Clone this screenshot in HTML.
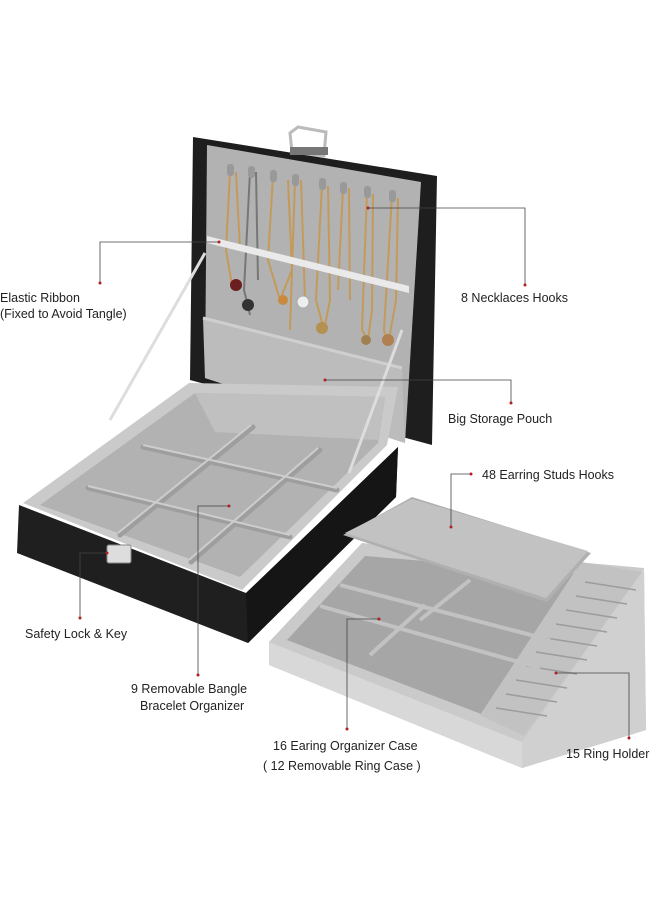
<!DOCTYPE html>
<html><head><meta charset="utf-8"><style>
html,body{margin:0;padding:0;background:#fff;}
svg{display:block}
text{font-family:"Liberation Sans",sans-serif;font-size:12.5px;fill:#222;}
</style></head><body>
<svg width="660" height="900" viewBox="0 0 660 900" xmlns="http://www.w3.org/2000/svg">
<rect width="660" height="900" fill="#fff"/>
<!-- LID -->
<polygon points="193,137 437,176 432,445 190,380" fill="#1e1e1e"/>
<polygon points="207,145 421,182 405,443 205,378" fill="#b2b2b2"/>
<polygon points="290,133 298,127 326,132 324,156 292,152" fill="none" stroke="#bbb" stroke-width="3"/>
<rect x="290" y="147" width="38" height="8" fill="#777"/>
<!-- pouch -->
<polygon points="203,318 402,368 405,443 205,378" fill="#bcbcbc"/>
<line x1="203" y1="318" x2="402" y2="368" stroke="#cfcfcf" stroke-width="3"/>
<!-- hooks & chains -->
<g stroke="#c49a5a" stroke-width="2" fill="none">
<path d="M230,172 L226,250 L232,285 M236,172 L240,250"/>
<path d="M250,172 L244,290 L250,315 M256,172 L258,280" stroke="#777"/>
<path d="M273,176 L268,260 L280,300 L292,270 L288,180"/>
<path d="M295,180 L290,330 M301,180 L305,300"/>
<path d="M322,184 L316,300 L324,330 L330,300 L328,186"/>
<path d="M343,188 L338,290 M349,188 L350,300"/>
<path d="M367,192 L362,330 L368,340 L372,310 L373,194"/>
<path d="M392,196 L384,330 L388,345 L396,300 L398,198"/>
</g>
<g fill="#999"><rect x="227" y="164" width="7" height="12" rx="3"/><rect x="248" y="166" width="7" height="12" rx="3"/><rect x="270" y="170" width="7" height="12" rx="3"/><rect x="292" y="174" width="7" height="12" rx="3"/><rect x="319" y="178" width="7" height="12" rx="3"/><rect x="340" y="182" width="7" height="12" rx="3"/><rect x="364" y="186" width="7" height="12" rx="3"/><rect x="389" y="190" width="7" height="12" rx="3"/></g>
<circle cx="236" cy="285" r="6" fill="#6b1f1f"/><circle cx="248" cy="305" r="6" fill="#333"/><circle cx="283" cy="300" r="5" fill="#c98a40"/><circle cx="303" cy="302" r="6" fill="#eee" stroke="#aaa"/><circle cx="322" cy="328" r="6" fill="#b59050"/><circle cx="366" cy="340" r="5" fill="#a08050"/><circle cx="388" cy="340" r="6" fill="#b08050"/>
<!-- elastic ribbon -->
<polygon points="207,236 409,286 409,293 207,243" fill="#eaeaea"/>
<!-- BASE -->
<polygon points="19,505 246,593 398,447 396,497 248,643 17,553" fill="#1f1f1f"/>
<polygon points="246,593 398,447 396,497 248,643" fill="#151515"/>
<polygon points="23,503 189,383 398,387 387,445 242,590" fill="#cacaca"/>
<polygon points="40,505 195,393 385,397 378,443 240,577" fill="#b2b2b2"/>
<polygon points="195,393 385,397 378,440 215,432" fill="#c0c0c0"/>
<g stroke="#9e9e9e" stroke-width="5" stroke-linecap="round">
<line x1="143" y1="447" x2="337" y2="490"/>
<line x1="88" y1="488" x2="290" y2="537"/>
<line x1="120" y1="535" x2="253" y2="427"/>
<line x1="191" y1="562" x2="320" y2="450"/>
</g>
<g stroke="#cdcdcd" stroke-width="2">
<line x1="143" y1="445" x2="337" y2="488"/>
<line x1="88" y1="486" x2="290" y2="535"/>
<line x1="118" y1="533" x2="251" y2="425"/>
<line x1="189" y1="560" x2="318" y2="448"/>
</g>
<rect x="107" y="545" width="24" height="18" rx="2" fill="#ddd" stroke="#888"/>
<!-- straps -->
<line x1="205" y1="253" x2="110" y2="420" stroke="#ddd" stroke-width="3"/>
<line x1="402" y1="330" x2="349" y2="473" stroke="#ddd" stroke-width="3"/>
<!-- TRAY -->
<polygon points="269,642 362,543 644,568 646,730 522,768 269,665" fill="#cacaca"/>
<polygon points="269,642 522,742 522,768 269,665" fill="#d8d8d8"/>
<polygon points="522,742 644,568 646,730 522,768" fill="#d0d0d0"/>
<polygon points="287,640 365,556 630,578 518,728" fill="#a6a6a6"/>
<polygon points="581,562 642,572 524,736 480,715" fill="#c2c2c2"/>
<g stroke="#9c9c9c" stroke-width="1.5">
<line x1="585" y1="582" x2="636" y2="590"/><line x1="576" y1="596" x2="627" y2="604"/><line x1="566" y1="610" x2="617" y2="618"/><line x1="556" y1="624" x2="607" y2="632"/><line x1="546" y1="638" x2="597" y2="646"/><line x1="536" y1="652" x2="587" y2="660"/><line x1="526" y1="666" x2="577" y2="674"/><line x1="516" y1="680" x2="567" y2="688"/><line x1="506" y1="694" x2="557" y2="702"/><line x1="496" y1="708" x2="547" y2="716"/>
</g>
<g stroke="#c2c2c2" stroke-width="4">
<line x1="320" y1="606" x2="540" y2="668"/>
<line x1="340" y1="585" x2="550" y2="640"/>
<line x1="370" y1="655" x2="425" y2="605"/>
<line x1="420" y1="620" x2="470" y2="580"/>
</g>
<polygon points="343,535 412,497 591,553 547,602" fill="#b0b0b0"/>
<polygon points="345,533 412,499 588,551 546,598" fill="#c2c2c2"/>
<!-- LEADERS -->
<g stroke="#444" stroke-width="0.8" fill="none">
<polyline points="219,242 100,242 100,283"/>
<polyline points="368,208 525,208 525,285"/>
<polyline points="325,380 511,380 511,403"/>
<polyline points="471,474 451,474 451,527"/>
<polyline points="107,553 80,553 80,618"/>
<polyline points="229,506 198,506 198,675"/>
<polyline points="379,619 347,619 347,729"/>
<polyline points="556,673 629,673 629,738"/>
</g>
<g fill="#b02020">
<circle cx="219" cy="242" r="1.5"/><circle cx="100" cy="283" r="1.5"/><circle cx="368" cy="208" r="1.5"/><circle cx="525" cy="285" r="1.5"/><circle cx="325" cy="380" r="1.5"/><circle cx="511" cy="403" r="1.5"/><circle cx="471" cy="474" r="1.5"/><circle cx="451" cy="527" r="1.5"/><circle cx="107" cy="553" r="1.5"/><circle cx="80" cy="618" r="1.5"/><circle cx="229" cy="506" r="1.5"/><circle cx="198" cy="675" r="1.5"/><circle cx="379" cy="619" r="1.5"/><circle cx="347" cy="729" r="1.5"/><circle cx="556" cy="673" r="1.5"/><circle cx="629" cy="738" r="1.5"/>
</g>
<!-- LABELS -->
<text x="0" y="302">Elastic Ribbon</text>
<text x="0" y="318">(Fixed to Avoid Tangle)</text>
<text x="461" y="302">8 Necklaces Hooks</text>
<text x="448" y="423">Big Storage Pouch</text>
<text x="482" y="479">48 Earring Studs Hooks</text>
<text x="25" y="638">Safety Lock &amp; Key</text>
<text x="131" y="693">9 Removable Bangle</text>
<text x="140" y="710">Bracelet Organizer</text>
<text x="273" y="750">16 Earing Organizer Case</text>
<text x="263" y="770">( 12 Removable Ring Case )</text>
<text x="566" y="758">15 Ring  Holder</text>
</svg>
</body></html>
